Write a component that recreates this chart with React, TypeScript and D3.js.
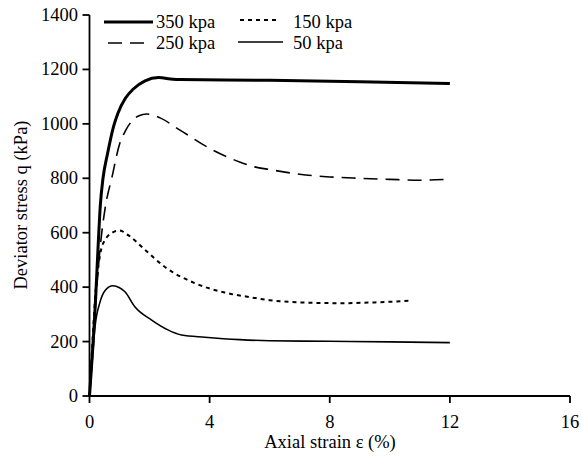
import React from "react";
import * as d3 from "d3";

const xTicks = [0, 4, 8, 12, 16];
const yTicks = [0, 200, 400, 600, 800, 1000, 1200, 1400];

const strain350 = [0, 0.2, 0.3, 0.36, 0.45, 0.6, 0.8, 0.95, 1.2, 1.45, 1.85, 2.3, 2.78, 3, 6, 9, 12];
const q350 = [0, 350, 580, 700, 800, 890, 990, 1040, 1095, 1127, 1158, 1170, 1164, 1163, 1160, 1155, 1148];

const strain250 = [0, 0.15, 0.25, 0.35, 0.52, 0.75, 1.0, 1.2, 1.45, 1.65, 1.9, 2.35, 3, 4, 5, 5.5, 6, 7, 8, 9, 10, 11, 12];
const q250 = [0, 250, 410, 540, 690, 805, 925, 975, 1015, 1030, 1036, 1022, 978, 910, 860, 842, 832, 815, 805, 800, 796, 793, 797];

const strain150 = [0, 0.1, 0.2, 0.3, 0.4, 0.5, 0.75, 1.0, 1.3, 1.85, 2.51, 3.5, 4.5, 5.35, 6, 7, 8.4, 9.5, 10.66];
const q150 = [0, 200, 380, 480, 545, 570, 600, 608, 590, 537, 474, 415, 380, 363, 352, 344, 341, 344, 350];

const strain50 = [0, 0.1, 0.18, 0.35, 0.52, 0.78, 1.0, 1.18, 1.51, 2.07, 2.61, 3.07, 3.84, 5, 6, 8, 10, 12];
const q50 = [0, 140, 250, 345, 388, 405, 398, 383, 328, 279, 243, 224, 216, 207, 203, 201, 199, 196];

const seriesNames = ["350 kpa", "250 kpa", "150 kpa", "50 kpa"];

const FONT = "'Liberation Serif', 'Times New Roman', serif";

export default function App() {
  const width = 582;
  const height = 460;
  const x = d3.scaleLinear().domain([0, 16]).range([89.5, 570]);
  const y = d3.scaleLinear().domain([0, 1400]).range([396, 15]);

  const line = d3
    .line<[number, number]>()
    .x((d) => x(d[0]))
    .y((d) => y(d[1]))
    .curve(d3.curveMonotoneX);

  const zip = (a: number[], b: number[]) => a.map((v, i) => [v, b[i]] as [number, number]);

  const series = [
    { name: seriesNames[0], pts: zip(strain350, q350), w: 3, dash: "none" },
    { name: seriesNames[1], pts: zip(strain250, q250), w: 1.6, dash: "14,8" },
    { name: seriesNames[2], pts: zip(strain150, q150), w: 2, dash: "4,4" },
    { name: seriesNames[3], pts: zip(strain50, q50), w: 1.6, dash: "none" },
  ];

  const legend = [
    { s: series[0], x1: 104, x2: 153, ly: 22, tx: 156, ty: 28 },
    { s: series[1], x1: 108, x2: 148, ly: 43, tx: 156, ty: 49 },
    { s: series[2], x1: 240, x2: 278, ly: 20, tx: 293, ty: 28 },
    { s: series[3], x1: 238, x2: 283, ly: 42, tx: 293, ty: 49 },
  ];

  return (
    <svg width={width} height={height} style={{ display: "block", position: "absolute", left: 0, top: 0 }}>
      <rect width={width} height={height} fill="#fff" />
      {/* axes */}
      <g stroke="#000" strokeWidth={1.8} fill="none">
        <line x1={x(0)} x2={x(16)} y1={y(0)} y2={y(0)} />
        <line x1={x(0)} x2={x(0)} y1={y(0)} y2={y(1400)} />
        {xTicks.map((t) => (
          <line key={"xt" + t} x1={x(t)} x2={x(t)} y1={y(0)} y2={y(0) + 7} />
        ))}
        {yTicks.map((t) => (
          <line key={"yt" + t} x1={x(0) - 7} x2={x(0)} y1={y(t)} y2={y(t)} />
        ))}
      </g>
      <g fontFamily={FONT} fontSize={18.5} fill="#000">
        {xTicks.map((t) => (
          <text key={"xl" + t} x={x(t)} y={428} textAnchor="middle">
            {t}
          </text>
        ))}
        {yTicks.map((t) => (
          <text key={"yl" + t} x={78} y={y(t) + 6} textAnchor="end">
            {t}
          </text>
        ))}
        <text x={330} y={448} textAnchor="middle">
          Axial strain ε (%)
        </text>
        <text transform="translate(27,205) rotate(-90)" textAnchor="middle">
          Deviator stress q (kPa)
        </text>
      </g>
      {/* curves */}
      <g fill="none" stroke="#000">
        {series.map((s) => (
          <path key={s.name} d={line(s.pts) || ""} strokeWidth={s.w} strokeDasharray={s.dash} />
        ))}
      </g>
      {/* legend */}
      <g fontFamily={FONT} fontSize={18.5}>
        {legend.map((l) => (
          <g key={l.s.name}>
            <line x1={l.x1} x2={l.x2} y1={l.ly} y2={l.ly} stroke="#000" strokeWidth={l.s.w} strokeDasharray={l.s.dash} />
            <text x={l.tx} y={l.ty} fill="#000">
              {l.s.name}
            </text>
          </g>
        ))}
      </g>
    </svg>
  );
}
